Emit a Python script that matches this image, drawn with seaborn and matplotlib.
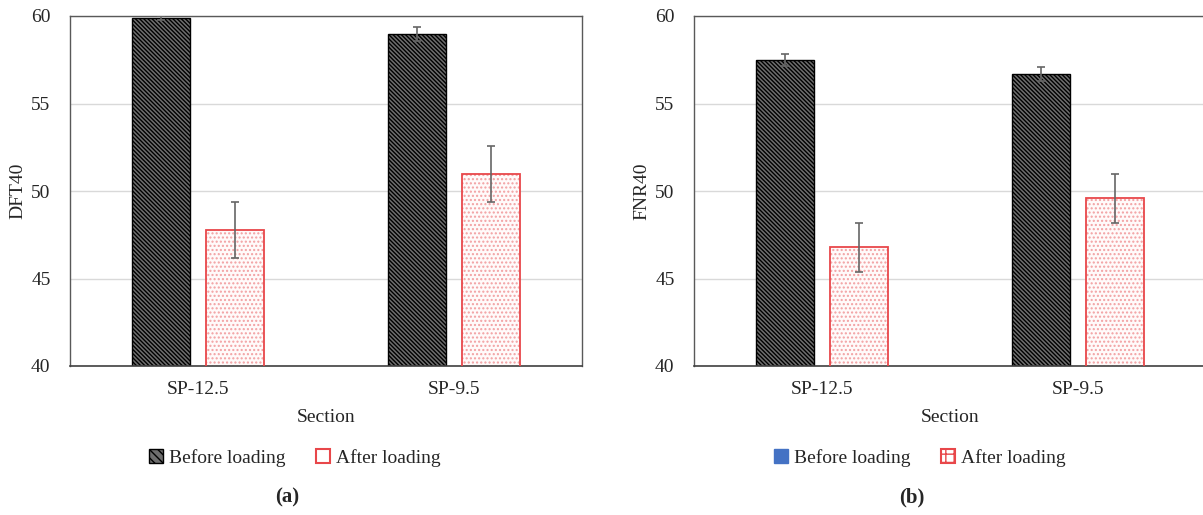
import matplotlib
matplotlib.use('Agg')
import matplotlib.pyplot as plt
import matplotlib.patches as mpatches
import pandas as pd
import numpy as np
import seaborn as sns

sns.set_style("white")
plt.rcParams['font.family'] = ['Liberation Serif', 'DejaVu Serif']
plt.rcParams['hatch.linewidth'] = 1.0

# data
sections = ['SP-12.5', 'SP-9.5']
loadings = ['Before loading', 'After loading']
dft_before = [59.9, 59.0]
dft_before_err = [0.1, 0.4]
dft_after = [47.8, 51.0]
dft_after_err = [1.6, 1.6]
fnr_before = [57.5, 56.7]
fnr_before_err = [0.35, 0.4]
fnr_after = [46.8, 49.6]
fnr_after_err = [1.4, 1.4]

yticks = [40, 45, 50, 55, 60]

RED = '#e8474a'


def make_df(before, after, before_err, after_err):
    rows = []
    for i, s in enumerate(sections):
        rows.append({'Section': s, 'Loading': loadings[0], 'value': before[i], 'err': before_err[i]})
        rows.append({'Section': s, 'Loading': loadings[1], 'value': after[i], 'err': after_err[i]})
    return pd.DataFrame(rows)


def draw_panel(ax, df, ylabel):
    sns.barplot(data=df, x='Section', y='value', hue='Loading', order=sections,
                hue_order=loadings, width=0.573, gap=0.21, errorbar=None,
                legend=False, ax=ax)
    bars = [p for p in ax.patches if p.get_height() > 0]
    # seaborn draws all bars of first hue, then second hue
    for j, loading in enumerate(loadings):
        for i, s in enumerate(sections):
            p = bars[j * len(sections) + i]
            row = df[(df['Section'] == s) & (df['Loading'] == loading)].iloc[0]
            if j == 0:
                p.set_facecolor('#6e6e6e')
                p.set_edgecolor('black')
                p.set_hatch('\\\\\\\\\\\\\\\\')
                p.set_linewidth(1.0)
            else:
                # light dotted fill, separate red outline
                p.set_facecolor('#fffafa')
                p.set_edgecolor('#f2a0a2')
                p.set_hatch('....')
                p.set_linewidth(0)
                ax.add_patch(mpatches.Rectangle((p.get_x(), p.get_y()), p.get_width(),
                                                p.get_height(), fill=False,
                                                edgecolor=RED, linewidth=1.3, zorder=3))
            cx = p.get_x() + p.get_width() / 2
            ax.errorbar(cx, row['value'], yerr=row['err'], color='#666666',
                        capsize=3, elinewidth=1.2, capthick=1.2, zorder=5)
    ax.set_xlim(-0.5, 1.5)
    ax.set_ylim(40, 60)
    ax.set_yticks(yticks)
    ax.yaxis.grid(True, color='#d9d9d9', linewidth=1)
    ax.set_axisbelow(True)
    ax.tick_params(axis='both', length=0, labelsize=14)
    ax.tick_params(axis='y', pad=14)
    ax.tick_params(axis='x', pad=11)
    ax.set_xlabel('Section', fontsize=14, labelpad=8)
    ax.set_ylabel(ylabel, fontsize=14, labelpad=3)
    for side in ['top', 'right', 'left']:
        ax.spines[side].set_color('#595959')
        ax.spines[side].set_linewidth(1.0)
    ax.spines['bottom'].set_color('#404040')
    ax.spines['bottom'].set_linewidth(1.2)


fig = plt.figure(figsize=(12.03, 5.15), dpi=100)
ax1 = fig.add_axes([70 / 1203, 149 / 515, 512 / 1203, 350 / 515])
ax2 = fig.add_axes([694 / 1203, 149 / 515, 512 / 1203, 350 / 515])

draw_panel(ax1, make_df(dft_before, dft_after, dft_before_err, dft_after_err), 'DFT40')
draw_panel(ax2, make_df(fnr_before, fnr_after, fnr_before_err, fnr_after_err), 'FNR40')

# legends
h_before_a = mpatches.Patch(facecolor='#6e6e6e', edgecolor='black', hatch='\\\\\\\\', label=loadings[0])
h_after_a = mpatches.Patch(facecolor='white', edgecolor=RED, linewidth=1.5, label=loadings[1])
h_before_b = mpatches.Patch(facecolor='#4472c4', edgecolor='#4472c4', label=loadings[0])
h_after_b = mpatches.Patch(facecolor='white', edgecolor=RED, hatch='++', linewidth=1.5, label=loadings[1])

leg_kw = dict(loc='center', ncol=2, frameon=False, fontsize=14, handlelength=0.7,
              handleheight=0.7, handletextpad=0.3, columnspacing=1.6)
fig.legend(handles=[h_before_a, h_after_a], bbox_to_anchor=(295 / 1203, 1 - 458 / 515), **leg_kw)
fig.legend(handles=[h_before_b, h_after_b], bbox_to_anchor=(920 / 1203, 1 - 458 / 515), **leg_kw)

fig.text(287 / 1203, 1 - 497 / 515, '(a)', ha='center', va='center', fontsize=15, fontweight='bold')
fig.text(912 / 1203, 1 - 497 / 515, '(b)', ha='center', va='center', fontsize=15, fontweight='bold')

fig.savefig('out.png', dpi=100)
